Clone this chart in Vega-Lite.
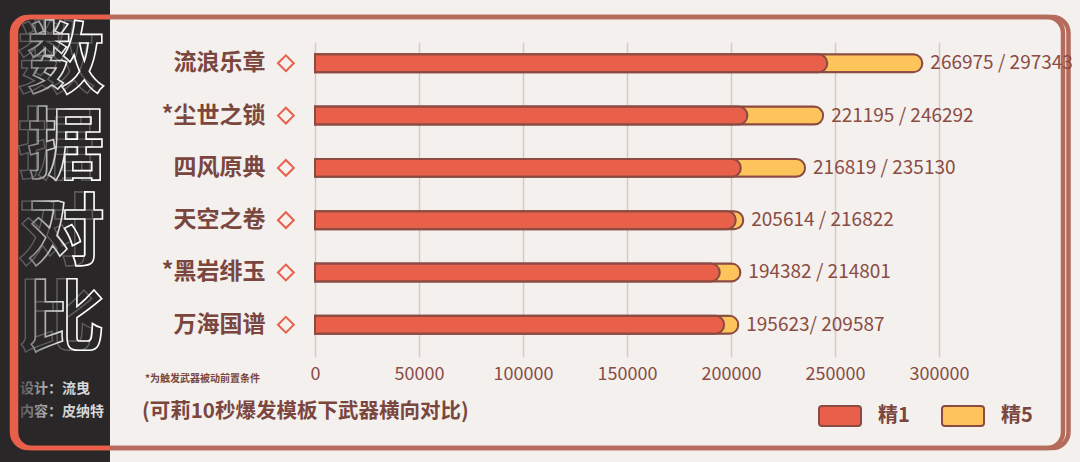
{
  "$schema": "https://vega.github.io/schema/vega-lite/v6.json",
  "width": 624,
  "height": 315,
  "autosize": {"type": "none"},
  "padding": {"left": 315, "top": 42, "right": 141, "bottom": 105},
  "background": "#f3f0ee",
  "config": {"view": {"stroke": null}, "font": "Noto Sans CJK SC"},
  "datasets": {
    "weapons": [
      {"name": "流浪乐章", "r1": 246300, "r5": 292000, "label": "266975 / 297343"},
      {"name": "*尘世之锁", "r1": 207900, "r5": 244300, "label": "221195 / 246292"},
      {"name": "四风原典", "r1": 204700, "r5": 235600, "label": "216819 / 235130"},
      {"name": "天空之卷", "r1": 202300, "r5": 205900, "label": "205614 / 216822"},
      {"name": "*黑岩绯玉", "r1": 194600, "r5": 204500, "label": "194382 / 214801"},
      {"name": "万海国谱", "r1": 196700, "r5": 203500, "label": "195623/ 209587"}
    ],
    "frame": [{}]
  },
  "layer": [
    {
      "data": {"name": "frame"},
      "layer": [
        {
          "mark": {"type": "rect", "fill": "#2a2729"},
          "encoding": {
            "x": {"datum": 0, "type": "quantitative", "scale": {"domain": [0, 1080], "range": [-315, 765], "nice": false, "zero": false}, "axis": null},
            "x2": {"datum": 110},
            "y": {"datum": 0, "type": "quantitative", "scale": {"domain": [0, 462], "range": [-42, 420], "nice": false, "zero": false}, "axis": null},
            "y2": {"datum": 462}
          }
        },
        {
          "mark": {"type": "rect", "fillOpacity": 0, "strokeWidth": 4.5, "cornerRadius": 16,
            "stroke": {"gradient": "linear", "x1": 0, "y1": 0, "x2": 1, "y2": 0,
              "stops": [{"offset": 0, "color": "#e8604a"}, {"offset": 0.093, "color": "#e8604a"}, {"offset": 0.0935, "color": "#b56b5c"}, {"offset": 1, "color": "#b56b5c"}]}},
          "encoding": {
            "x": {"datum": 12, "type": "quantitative"},
            "x2": {"datum": 1063},
            "y": {"datum": 17, "type": "quantitative"},
            "y2": {"datum": 448}
          }
        },
        {
          "mark": {"type": "rect", "fillOpacity": 0, "strokeWidth": 4.5, "cornerRadius": 16,
            "stroke": {"gradient": "linear", "x1": 0, "y1": 0, "x2": 1, "y2": 0,
              "stops": [{"offset": 0, "color": "#e8604a"}, {"offset": 0.089, "color": "#e8604a"}, {"offset": 0.0895, "color": "#b56b5c"}, {"offset": 1, "color": "#b56b5c"}]}},
          "encoding": {
            "x": {"datum": 16, "type": "quantitative"},
            "x2": {"datum": 1068.5},
            "y": {"datum": 17, "type": "quantitative"},
            "y2": {"datum": 448}
          }
        },
        {
          "mark": {"type": "text", "text": ["数", "据", "对", "比"], "font": "Noto Sans CJK SC", "fontWeight": "bold", "fontSize": 78, "lineHeight": 86, "align": "center", "baseline": "top", "fillOpacity": 0, "stroke": "#8a8a8a", "strokeWidth": 1.4, "strokeOpacity": 0.55},
          "encoding": {
            "x": {"datum": 56, "type": "quantitative"},
            "y": {"datum": 25, "type": "quantitative"}
          }
        },
        {
          "mark": {"type": "text", "text": ["数", "据", "对", "比"], "font": "Noto Sans CJK SC", "fontWeight": "bold", "fontSize": 78, "lineHeight": 86, "align": "center", "baseline": "top", "fillOpacity": 0, "strokeWidth": 1.6,
            "stroke": {"gradient": "linear", "x1": 0, "y1": 0, "x2": 1, "y2": 0, "stops": [{"offset": 0, "color": "#7a7a7a"}, {"offset": 0.55, "color": "#ffffff"}, {"offset": 1, "color": "#ffffff"}]}},
          "encoding": {
            "x": {"datum": 66, "type": "quantitative"},
            "y": {"datum": 25, "type": "quantitative"}
          }
        },
        {
          "mark": {"type": "text", "text": "设计：流曳", "font": "Noto Sans CJK SC", "fontWeight": "bold", "fontSize": 14, "align": "left", "baseline": "middle",
            "fill": {"gradient": "linear", "x1": 0, "y1": 0, "x2": 1, "y2": 0, "stops": [{"offset": 0, "color": "#555555"}, {"offset": 0.5, "color": "#cfcfcf"}, {"offset": 1, "color": "#dddddd"}]}},
          "encoding": {
            "x": {"datum": 20, "type": "quantitative"},
            "y": {"datum": 389, "type": "quantitative"}
          }
        },
        {
          "mark": {"type": "text", "text": "内容：皮纳特", "font": "Noto Sans CJK SC", "fontWeight": "bold", "fontSize": 14, "align": "left", "baseline": "middle",
            "fill": {"gradient": "linear", "x1": 0, "y1": 0, "x2": 1, "y2": 0, "stops": [{"offset": 0, "color": "#555555"}, {"offset": 0.45, "color": "#cfcfcf"}, {"offset": 1, "color": "#dddddd"}]}},
          "encoding": {
            "x": {"datum": 20, "type": "quantitative"},
            "y": {"datum": 412, "type": "quantitative"}
          }
        },
        {
          "mark": {"type": "text", "text": "*为触发武器被动前置条件", "font": "Noto Sans CJK SC", "fontWeight": "bold", "fontSize": 10, "align": "left", "baseline": "middle", "color": "#7a463d"},
          "encoding": {
            "x": {"datum": 145, "type": "quantitative"},
            "y": {"datum": 379, "type": "quantitative"}
          }
        },
        {
          "mark": {"type": "text", "text": "(可莉10秒爆发模板下武器横向对比)", "font": "Noto Sans CJK SC", "fontWeight": "bold", "fontSize": 20.5, "align": "left", "baseline": "middle", "color": "#7a463d"},
          "encoding": {
            "x": {"datum": 142, "type": "quantitative"},
            "y": {"datum": 412, "type": "quantitative"}
          }
        }
      ]
    },
    {
      "data": {"name": "weapons"},
      "layer": [
        {
          "mark": {"type": "bar", "stroke": "#8b4b42", "strokeWidth": 2, "cornerRadiusEnd": 9},
          "encoding": {
            "x": {"field": "r5", "type": "quantitative",
              "scale": {"domain": [0, 300000], "nice": false, "zero": true},
              "axis": {"orient": "bottom", "values": [0, 50000, 100000, 150000, 200000, 250000, 300000], "format": "d", "grid": true, "gridColor": "#dcc6c0", "gridWidth": 1.5, "domain": false, "ticks": false, "labelPadding": 8, "labelFontSize": 18, "labelColor": "#8b4c43", "labelFont": "Noto Sans CJK SC", "labelFlush": false, "title": null}},
            "y": {"field": "name", "type": "nominal",
              "scale": {"domain": ["流浪乐章", "*尘世之锁", "四风原典", "天空之卷", "*黑岩绯玉", "万海国谱"], "paddingInner": 0.656, "paddingOuter": 0.34, "align": 0.346},
              "axis": {"orient": "left", "domain": false, "ticks": false, "grid": false, "labelPadding": 50, "labelFontSize": 23, "labelFontWeight": "bold", "labelColor": "#7a463d", "labelFont": "Noto Sans CJK SC", "title": null}},
            "color": {"datum": "精5", "type": "nominal",
              "scale": {"domain": ["精1", "精5"], "range": ["#e8604a", "#fdc45c"]},
              "legend": {"orient": "none", "legendX": 503, "legendY": 352, "direction": "horizontal", "title": null,
                "symbolType": "M -0.857 -0.476 L 0.857 -0.476 A 0.143 0.143 0 0 1 1 -0.333 L 1 0.333 A 0.143 0.143 0 0 1 0.857 0.476 L -0.857 0.476 A 0.143 0.143 0 0 1 -1 0.333 L -1 -0.333 A 0.143 0.143 0 0 1 -0.857 -0.476 Z",
                "symbolSize": 1764, "symbolStrokeColor": "#8b4b42", "symbolStrokeWidth": 2, "symbolOpacity": 1,
                "labelFontSize": 20, "labelFontWeight": "bold", "labelColor": "#7a463d", "labelFont": "Noto Sans CJK SC", "labelOffset": 16, "columnPadding": 28, "padding": 0}}
          }
        },
        {
          "mark": {"type": "bar", "stroke": "#8b4b42", "strokeWidth": 2, "cornerRadiusEnd": 9},
          "encoding": {
            "x": {"field": "r1", "type": "quantitative"},
            "y": {"field": "name", "type": "nominal"},
            "color": {"datum": "精1", "type": "nominal"}
          }
        },
        {
          "mark": {"type": "point", "shape": "diamond", "filled": false, "stroke": "#e8604a", "strokeWidth": 2, "size": 250, "opacity": 1},
          "encoding": {
            "x": {"datum": -14000, "type": "quantitative"},
            "y": {"field": "name", "type": "nominal"}
          }
        },
        {
          "mark": {"type": "text", "align": "left", "baseline": "middle", "dx": 8, "fontSize": 19, "font": "Noto Sans CJK SC", "color": "#8b4c43"},
          "encoding": {
            "x": {"field": "r5", "type": "quantitative"},
            "y": {"field": "name", "type": "nominal"},
            "text": {"field": "label"}
          }
        }
      ]
    }
  ],
  "resolve": {"scale": {"x": "independent", "y": "independent"}}
}
